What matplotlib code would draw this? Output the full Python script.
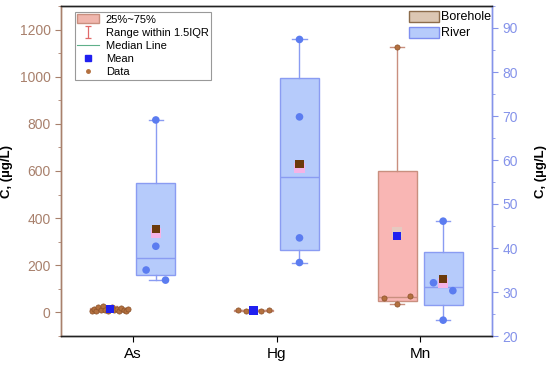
import numpy as np
import matplotlib as mpl
mpl.use('Agg')
import matplotlib.pyplot as plt
from matplotlib.patches import Patch
from matplotlib.lines import Line2D
from matplotlib.path import Path
from matplotlib.transforms import offset_copy

plt.rcParams['font.family'] = ['Liberation Sans', 'DejaVu Sans']

elements = ['As', 'Hg', 'Mn']

# borehole concentrations, left axis (ug/L)
bore_as = [8, 14, 5, 22, 10, 28, 12, 6, 18, 25, 9, 15, 4, 20, 11, 7, 16]
bore_hg = [10, 6, 12, 5, 9]
bore_mn = [1125, 60, 37, 71]

# river concentrations, right axis (ug/L)
river_as = [69.1, 40.4, 35.0, 32.7]
river_hg = [87.4, 69.8, 42.3, 36.7]
river_mn = [46.1, 32.1, 30.3, 23.6]

borehole = [bore_as, bore_hg, bore_mn]
river = [river_as, river_hg, river_mn]

# colours
BORE_FILL = '#f9b6b4'
BORE_EDGE = '#c98f7f'
BORE_DOT = '#b3703f'
RIVER_FILL = '#b6cbfb'
RIVER_EDGE = '#8a9cf2'
RIVER_DOT = '#5b7cf0'
LEFT_C = '#a8806c'
RIGHT_C = '#8593ea'

OFF = 0.16
WIDTH = 0.27
AX_H = 330.0  # axes height in px


def stats(vals):
    v = np.sort(np.array(vals, dtype=float))
    q1, med, q3 = np.percentile(v, [25, 50, 75], method='midpoint')
    iqr = q3 - q1
    lo = v[v >= q1 - 1.5 * iqr].min()
    hi = v[v <= q3 + 1.5 * iqr].max()
    return dict(q1=q1, med=med, q3=q3, whislo=lo, whishi=hi, mean=v.mean(), fliers=[])


def spread(vals, ylim, thresh=15):
    # group close points (in px) and spread each group across the box
    vals = np.array(vals, dtype=float)
    ppu = AX_H / (ylim[1] - ylim[0])
    order = np.argsort(vals)
    groups = [[order[0]]]
    for a, b in zip(order[:-1], order[1:]):
        if (vals[b] - vals[a]) * ppu < thresh:
            groups[-1].append(b)
        else:
            groups.append([b])
    offs = np.zeros(len(vals))
    for g in groups:
        n = len(g)
        if n > 1:
            g = sorted(g)
            span = WIDTH * (1 - 1.0 / n)
            offs[g] = np.linspace(-span / 2, span / 2, n)
    return offs


fig = plt.figure(figsize=(5.5, 3.65), dpi=100)
ax = fig.add_axes([61 / 550, 29 / 365, 431 / 550, 330 / 365])
ax2 = ax.twinx()

ylim_l = (-100, 1300)
ylim_r = (20, 95)
ax.set_ylim(*ylim_l)
ax2.set_ylim(*ylim_r)
ax.set_xlim(0.5, 3.5)

pos = np.arange(1, 4)

def draw(axis, data, dx, fill, edge, dotc, meanc, ylim, river_style):
    bs = [stats(d) for d in data]
    axis.bxp(bs, positions=pos + dx, widths=WIDTH, patch_artist=True, showcaps=True,
             showfliers=False, showmeans=False,
             boxprops=dict(facecolor=fill, edgecolor=edge, linewidth=1.0),
             medianprops=dict(color=edge, linewidth=1.0),
             whiskerprops=dict(color=edge, linewidth=1.0),
             capprops=dict(color=edge, linewidth=1.0), capwidths=0.1, zorder=2)
    for p, d in zip(pos + dx, data):
        offs = spread(d, ylim)
        if river_style:
            axis.scatter(p + offs, d, s=30, color=dotc, edgecolor='none', zorder=3)
        else:
            axis.scatter(p + offs, d, s=14, color=dotc, edgecolor='#8a5028', linewidth=0.5, zorder=3)
    means = [b['mean'] for b in bs]
    if river_style:
        halo = offset_copy(axis.transData, fig=fig, x=0, y=-3, units='points')
        axis.scatter(pos + dx, means, s=55, marker='s', color='#f5b3e6', edgecolor='none',
                     transform=halo, zorder=3.5)
    else:
        halo = offset_copy(axis.transData, fig=fig, x=0, y=3, units='points')
        axis.scatter(pos[2:] + dx, means[2:], s=50, marker='s', color='#e6c9c0', edgecolor='none',
                     transform=halo, zorder=3.5)
    axis.scatter(pos + dx, means, s=36, marker='s', color=meanc, edgecolor='none', zorder=4)

draw(ax, borehole, -OFF, BORE_FILL, BORE_EDGE, BORE_DOT, '#2020f0', ylim_l, False)
draw(ax2, river, OFF, RIVER_FILL, RIVER_EDGE, RIVER_DOT, '#6b3a0c', ylim_r, True)

ax.set_xticks(pos)
ax.set_xticklabels(elements, fontsize=11)
ax.set_yticks(np.arange(0, 1201, 200))
ax.set_yticks(np.arange(-100, 1301, 100), minor=True)
ax2.set_yticks(np.arange(20, 91, 10))
ax2.set_yticks(np.arange(20, 96, 5), minor=True)

ax.tick_params(axis='y', colors=LEFT_C, labelsize=10, length=4, direction='out')
ax.tick_params(axis='y', which='minor', colors=LEFT_C, length=2.5)
ax.tick_params(axis='x', length=4, labelsize=11, pad=4)
ax2.tick_params(axis='y', colors=RIGHT_C, labelsize=10, length=4, direction='out')
ax2.tick_params(axis='y', which='minor', colors=RIGHT_C, length=2.5)

for a in (ax, ax2):
    a.spines['left'].set_color(LEFT_C)
    a.spines['right'].set_color(RIGHT_C)
    a.spines['top'].set_color('#222222')
    a.spines['bottom'].set_color('#222222')
    for s in a.spines.values():
        s.set_linewidth(1.0)

ax.set_ylabel('C, (\u00b5g/L)', fontsize=9.5, fontweight='bold')
ax.yaxis.set_label_coords(-0.112, 0.5)
ax2.set_ylabel('C, (\u00b5g/L)', fontsize=9.5, fontweight='bold', rotation=90)
ax2.yaxis.set_label_coords(1.10, 0.5)

# I-bar marker for the range entry
ibar = Path([(-0.5, 1), (0.5, 1), (0, 1), (0, -1), (-0.5, -1), (0.5, -1)],
            [Path.MOVETO, Path.LINETO, Path.MOVETO, Path.LINETO, Path.MOVETO, Path.LINETO])

h1 = [Patch(facecolor='#f0b6ad', edgecolor=BORE_EDGE),
      Line2D([0], [0], color='#e06a6a', marker=ibar, markersize=8, markeredgewidth=0.9,
             linewidth=0),
      Line2D([0], [0], color='#5fb08a', linewidth=0.8),
      Line2D([0], [0], color='#2020f0', marker='s', linestyle='none', markersize=4),
      Line2D([0], [0], color=BORE_DOT, marker='o', linestyle='none', markersize=2.5)]
l1 = ax2.legend(h1, ['25%~75%', 'Range within 1.5IQR', 'Median Line', 'Mean', 'Data'],
                loc='upper left', bbox_to_anchor=(0.032, 0.982), borderaxespad=0,
                fontsize=8, frameon=True, fancybox=False, edgecolor='#808080',
                labelspacing=0.25, handlelength=2.0, handleheight=0.9, handletextpad=0.6,
                borderpad=0.2)
l1.get_frame().set_linewidth(0.8)
ax2.add_artist(l1)

h2 = [Patch(facecolor='#dcc7b3', edgecolor='#8c6c4c'),
      Patch(facecolor=RIVER_FILL, edgecolor='#7f8ff0')]
ax2.legend(h2, ['Borehole', 'River'], loc='upper right', bbox_to_anchor=(1.0, 0.99),
           borderaxespad=0, fontsize=9, frameon=False, handlelength=2.4, handleheight=1.0,
           handletextpad=0.15, labelspacing=0.25, borderpad=0.1)

fig.savefig('out.png', dpi=100)
